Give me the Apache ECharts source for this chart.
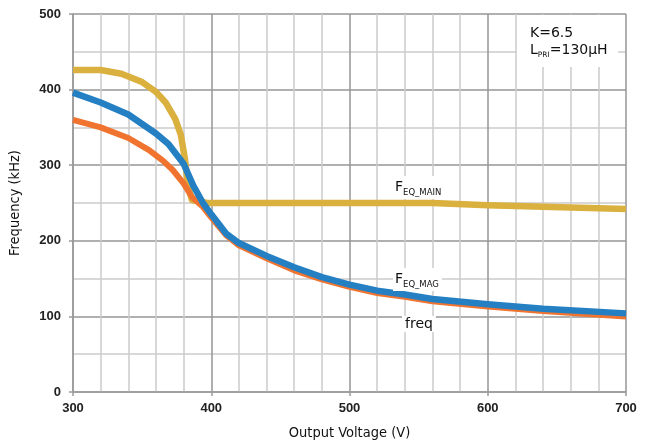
<!DOCTYPE html>
<html>
<head>
<meta charset="utf-8">
<script src="https://cdn.jsdelivr.net/npm/echarts@6/dist/echarts.min.js"></script>
<style>
html,body{margin:0;padding:0;background:#fff;}
#c{width:655px;height:446px;}
</style>
</head>
<body>
<div id="c"></div>
<script>
// Output voltage (V) / frequency (kHz) pairs
var feqMainV = [300, 320, 335, 350, 360, 367, 374, 378, 381, 383, 386, 397, 560, 600, 700];
var feqMainF = [426, 426, 421, 410, 397, 383, 361, 340, 308, 275, 254, 250, 250, 247, 242];

var feqMagV = [300, 320, 340, 360, 369, 380, 387, 394, 400, 411, 420, 440, 460, 480, 500, 520, 540, 560, 600, 640, 700];
var feqMagF = [396, 383, 367, 342, 328, 302, 273, 250, 235, 209, 197, 180, 165, 152, 142, 134, 129, 123, 116, 110, 104];

var freqV = [300, 320, 340, 355, 365, 372, 380, 386, 394, 400, 411, 420, 440, 460, 480, 500, 520, 540, 560, 600, 640, 700];
var freqF = [360, 350, 336, 320, 306, 294, 276, 258, 245, 231, 207, 194, 177, 161, 149, 139, 131, 126, 120, 113, 107, 100];

var xTicks = [300, 400, 500, 600, 700];
var yTicks = [0, 100, 200, 300, 400, 500];

function pairs(xs, ys) { return xs.map(function (x, i) { return [x, ys[i]]; }); }

var chart = echarts.init(document.getElementById('c'), null, {renderer: 'canvas'});
var labelFont = 'Liberation Sans, Arial, sans-serif';
var textFont = 'DejaVu Sans, sans-serif';
var titleFont = 'DejaVu Sans Condensed, DejaVu Sans, sans-serif';

function subLabel(main, sub, x, y) {
  return {
    type: 'text', left: x, top: y, z: 10,
    style: {
      text: '{a|' + main + '}{b|' + sub + '}',
      backgroundColor: '#fff',
      padding: [2, 3, 2, 2],
      rich: {
        a: {fontFamily: textFont, fontSize: 14, lineHeight: 19, verticalAlign: 'middle', fill: '#111'},
        b: {fontFamily: textFont, fontSize: 8.5, lineHeight: 10, verticalAlign: 'bottom', fill: '#111'}
      }
    }
  };
}

chart.setOption({
  animation: false,
  backgroundColor: '#fff',
  grid: {left: 72.7, right: 29, top: 14, bottom: 49, containLabel: false},
  xAxis: {
    type: 'value', min: xTicks[0], max: xTicks[xTicks.length - 1], interval: 100,
    name: 'Output Voltage (V)', nameLocation: 'middle', nameGap: 34,
    nameTextStyle: {fontFamily: titleFont, fontSize: 14.5, color: '#111'},
    axisLine: {show: true, lineStyle: {color: '#9a9a9a', width: 1.5}},
    axisTick: {show: true, length: 4, lineStyle: {color: '#9a9a9a', width: 1.5}},
    axisLabel: {fontFamily: labelFont, fontWeight: 'bold', fontSize: 13, color: '#222', margin: 10},
    splitLine: {show: true, showMinLine: true, showMaxLine: true, lineStyle: {color: '#969696', width: 1.5}},
    minorTick: {show: false, splitNumber: 5},
    minorSplitLine: {show: true, lineStyle: {color: '#cbcbcb', width: 1.5}}
  },
  yAxis: {
    type: 'value', min: yTicks[0], max: yTicks[yTicks.length - 1], interval: 100,
    name: 'Frequency (kHz)', nameLocation: 'middle', nameGap: 50,
    nameTextStyle: {fontFamily: titleFont, fontSize: 14.5, color: '#111'},
    axisLine: {show: true, lineStyle: {color: '#9a9a9a', width: 1.5}},
    axisTick: {show: true, length: 4, lineStyle: {color: '#9a9a9a', width: 1.5}},
    axisLabel: {fontFamily: labelFont, fontWeight: 'bold', fontSize: 13, color: '#222', margin: 12},
    splitLine: {show: true, showMinLine: true, showMaxLine: true, lineStyle: {color: '#969696', width: 1.5}},
    minorTick: {show: false, splitNumber: 2},
    minorSplitLine: {show: true, lineStyle: {color: '#cbcbcb', width: 1.5}}
  },
  series: [
    {name: 'FEQ_MAIN', type: 'line', data: pairs(feqMainV, feqMainF), showSymbol: false, symbol: 'none',
     lineStyle: {color: '#DAB13F', width: 6.5, cap: 'butt', join: 'round'}, z: 2},
    {name: 'freq', type: 'line', data: pairs(freqV, freqF), showSymbol: false, symbol: 'none',
     lineStyle: {color: '#F0742F', width: 6, cap: 'butt', join: 'round'}, z: 3},
    {name: 'FEQ_MAG', type: 'line', data: pairs(feqMagV, feqMagF), showSymbol: false, symbol: 'none',
     lineStyle: {color: '#2580C3', width: 6.5, cap: 'butt', join: 'round'}, z: 4}
  ],
  graphic: [
    {type: 'rect', shape: {x: 517, y: 15, width: 101, height: 52}, style: {fill: '#fff'}, z: 9},
    {type: 'text', left: 530, top: 26, z: 10,
     style: {text: 'K=6.5', fontFamily: textFont, fontSize: 14, fill: '#111'}},
    {type: 'text', left: 530, top: 43, z: 10,
     style: {
       text: '{a|L}{b|PRI}{a|=130μH}',
       rich: {
         a: {fontFamily: textFont, fontSize: 14, lineHeight: 19, verticalAlign: 'middle', fill: '#111'},
         b: {fontFamily: textFont, fontSize: 7.5, lineHeight: 9, verticalAlign: 'bottom', fill: '#111'}
       }
     }},
    subLabel('F', 'EQ_MAIN', 393, 176),
    subLabel('F', 'EQ_MAG', 393, 268),
    {type: 'text', left: 402, top: 316, z: 10,
     style: {text: 'freq', fontFamily: textFont, fontSize: 14, fill: '#111', backgroundColor: '#fff', padding: [1, 3, 1, 3]}}
  ]
});
</script>
</body>
</html>
